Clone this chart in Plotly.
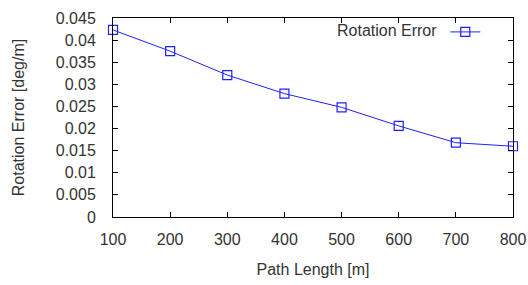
import plotly.graph_objects as go

path_length = [100, 200, 300, 400, 500, 600, 700, 800]
rotation_error = [0.0423, 0.0375, 0.0321, 0.0279, 0.0248, 0.0206, 0.0168, 0.0160]
y_ticks = [0, 0.005, 0.01, 0.015, 0.02, 0.025, 0.03, 0.035, 0.04, 0.045]
y_tick_labels = ["0", "0.005", "0.01", "0.015", "0.02", "0.025", "0.03", "0.035", "0.04", "0.045"]
x_ticks = [100, 200, 300, 400, 500, 600, 700, 800]

font = dict(family="Liberation Sans, Arial, sans-serif", size=16, color="#333333")

fig = go.Figure()
fig.add_trace(go.Scatter(
    x=path_length, y=rotation_error, mode="lines+markers", name="",
    line=dict(color="#2020ff", width=1),
    marker=dict(symbol="square-open", size=9, color="#2020ff", line=dict(width=1.2)),
    cliponaxis=False,
))

axis_common = dict(
    showline=True, linecolor="black", linewidth=1, mirror="ticks",
    ticks="inside", ticklen=5, tickcolor="black", showgrid=False, zeroline=False,
    tickfont=font, automargin=False,
)
fig.update_layout(
    width=528, height=285,
    margin=dict(l=113, r=15, t=18, b=68),
    paper_bgcolor="white", plot_bgcolor="white",
    font=font,
    showlegend=True,
    legend=dict(
        x=0.945, y=1.015, xanchor="right", yanchor="top",
        bgcolor="rgba(0,0,0,0)",
        title=dict(text="Rotation Error", side="left", font=font),
        font=font, itemwidth=30,
    ),
    xaxis=dict(range=[100, 800], tickvals=x_ticks, ticklabelstandoff=8,
               title=dict(text="Path Length [m]", font=font, standoff=16), **axis_common),
    yaxis=dict(range=[0, 0.045], tickvals=y_ticks, ticktext=y_tick_labels, ticklabelstandoff=13,
               title=dict(text="Rotation Error [deg/m]", font=font, standoff=27), **axis_common),
)
fig.write_html(
    "out.html",
    config={"displayModeBar": False},
    post_script="document.body.style.margin='0';document.body.style.overflow='hidden';",
)
